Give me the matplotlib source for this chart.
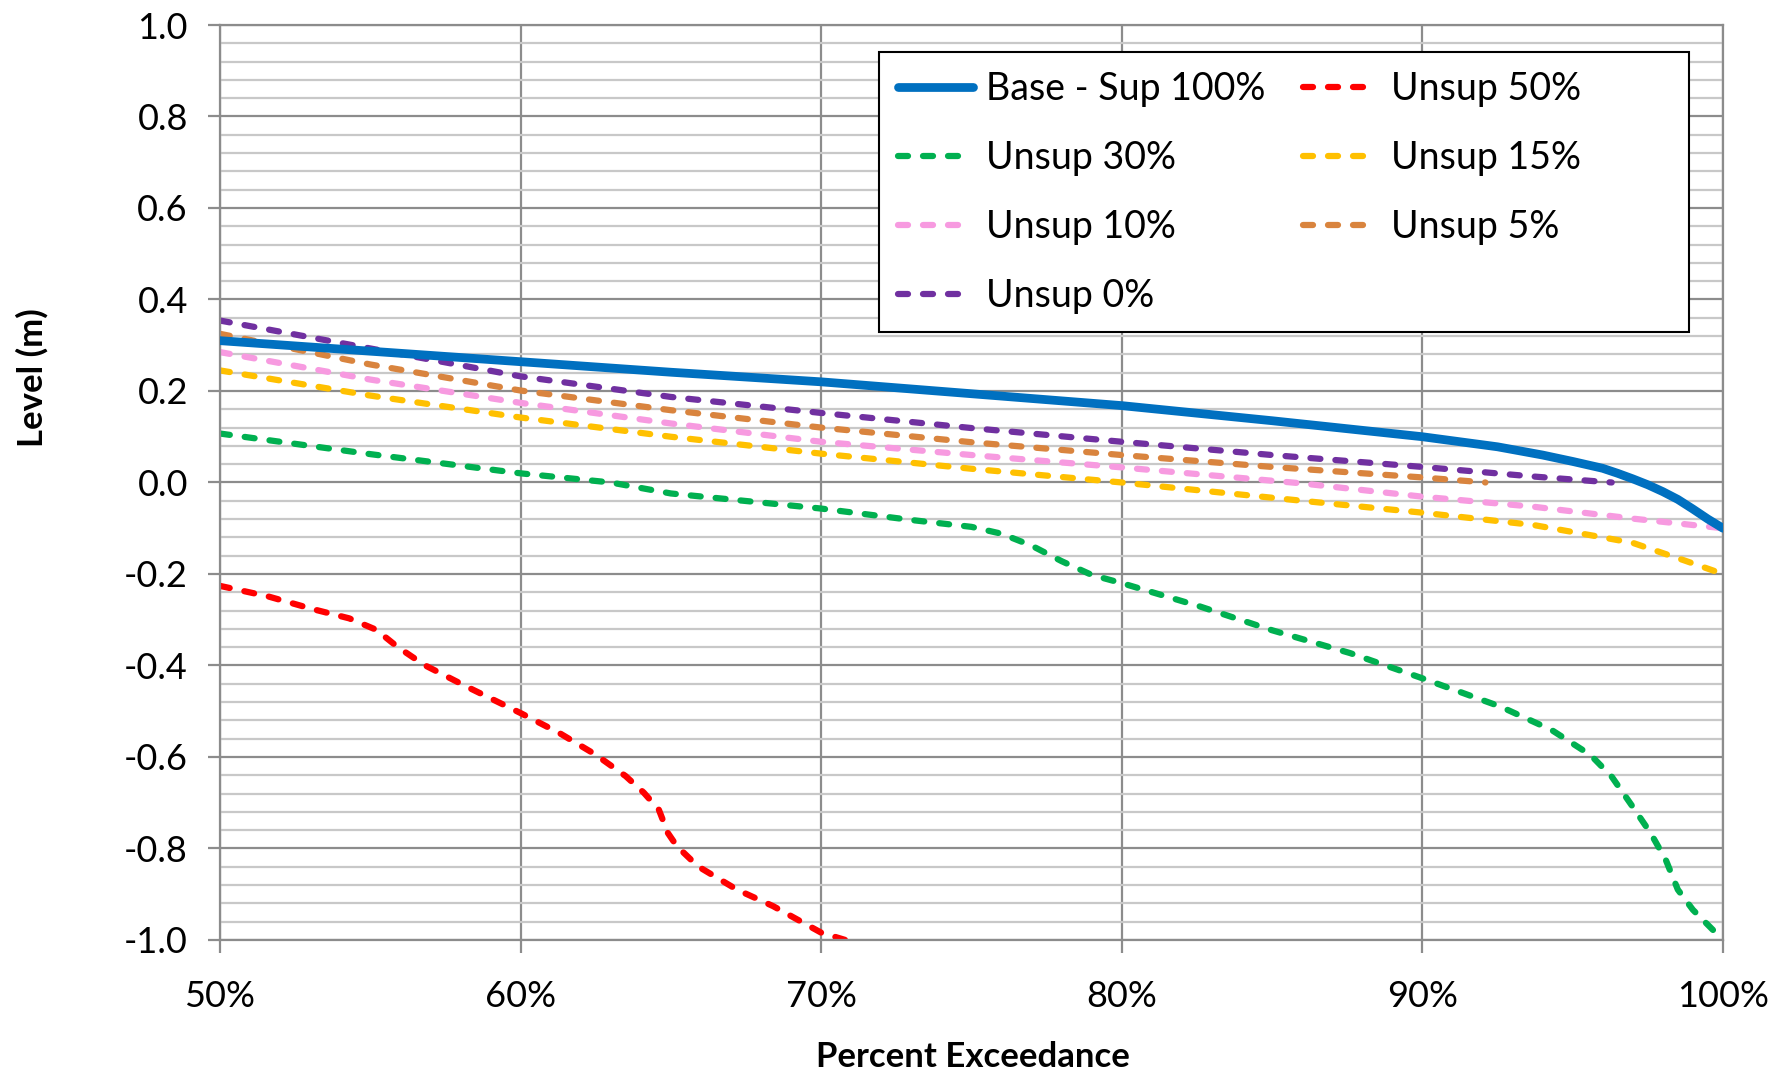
import matplotlib
matplotlib.use("Agg")
import matplotlib.pyplot as plt
from matplotlib.patches import Rectangle
from matplotlib.ticker import MultipleLocator, FuncFormatter

plt.rcParams['font.family'] = ['Lato', 'DejaVu Sans']
plt.rcParams['axes.unicode_minus'] = False

# exceedance (%) and level (m) per scenario
base_x = [50, 55, 60, 65, 70, 75, 80, 85, 90, 92.5, 94, 95, 96, 96.5, 97,
          97.5, 98, 98.5, 99, 99.5, 100]
base_y = [0.31, 0.287, 0.264, 0.241, 0.22, 0.194, 0.168, 0.135, 0.10, 0.078,
          0.06, 0.046, 0.031, 0.02, 0.008, -0.005, -0.02, -0.037, -0.058,
          -0.08, -0.10]

u50_x = [50, 51.6, 53.1, 54.3, 55.2, 55.9, 56.8, 58.2, 60, 61.3, 62.5, 63.5,
         64.1, 64.6, 64.9, 65.2, 65.9, 67.2, 68.4, 70, 70.8]
u50_y = [-0.226, -0.249, -0.277, -0.297, -0.322, -0.359, -0.399, -0.446, -0.504,
         -0.548, -0.595, -0.642, -0.678, -0.715, -0.766, -0.795, -0.839, -0.89,
         -0.926, -0.984, -1.0]

u30_x = [50, 55, 60, 63, 65, 70, 73, 75, 76, 77, 78, 79, 80, 82.6, 85, 87.6, 90,
         92.6, 94.3, 95.6, 96.3, 97, 97.6, 98.1, 98.5, 99, 100]
u30_y = [0.107, 0.062, 0.02, 0.0, -0.024, -0.057, -0.082, -0.097, -0.112, -0.138,
         -0.172, -0.202, -0.22, -0.271, -0.323, -0.373, -0.428, -0.49, -0.541,
         -0.596, -0.643, -0.709, -0.767, -0.825, -0.89, -0.934, -1.0]

u15_x = [50, 55, 60, 65, 70, 75, 80, 86, 90, 93.7, 96, 97, 98.7, 100]
u15_y = [0.245, 0.19, 0.142, 0.1, 0.063, 0.03, 0.0, -0.04, -0.066, -0.093,
         -0.12, -0.132, -0.17, -0.2]

u10_x = [50, 55, 60, 65, 70, 75, 80, 86, 90, 93.7, 97, 100]
u10_y = [0.285, 0.225, 0.174, 0.129, 0.089, 0.06, 0.033, -0.002, -0.031,
         -0.053, -0.079, -0.1]

u5_x = [50, 55, 60, 65, 70, 75, 80, 85, 90, 92.1]
u5_y = [0.325, 0.258, 0.201, 0.158, 0.12, 0.088, 0.06, 0.034, 0.011, 0.0]

u0_x = [50, 55, 60, 65, 70, 75, 80, 85, 90, 93.7, 96.3]
u0_y = [0.354, 0.293, 0.232, 0.187, 0.152, 0.119, 0.089, 0.06, 0.034, 0.013, 0.0]

fig = plt.figure(figsize=(17.88, 10.73), dpi=100)
ax = fig.add_axes([0.123, 0.124, 0.9636 - 0.123, 0.9767 - 0.124])

dash = dict(lw=4.5, dashes=(1.6, 2.4), dash_capstyle='round')
l_base, = ax.plot(base_x, base_y, color='#0070C0', lw=6.3, label='Base - Sup 100%',
                  solid_capstyle='round', zorder=5)
l50, = ax.plot(u50_x, u50_y, color='#FF0000', label='Unsup 50%', **dash)
l30, = ax.plot(u30_x, u30_y, color='#00B050', label='Unsup 30%', **dash)
l15, = ax.plot(u15_x, u15_y, color='#FFC000', label='Unsup 15%', **dash)
l10, = ax.plot(u10_x, u10_y, color='#F79AE0', label='Unsup 10%', **dash)
l5, = ax.plot(u5_x, u5_y, color='#D9843E', label='Unsup 5%', **dash)
l0, = ax.plot(u0_x, u0_y, color='#7030A0', label='Unsup 0%', **dash)

ax.set_xlim(50, 100)
ax.set_ylim(-1.0, 1.0)
ax.xaxis.set_major_locator(MultipleLocator(10))
ax.yaxis.set_major_locator(MultipleLocator(0.2))
ax.yaxis.set_minor_locator(MultipleLocator(0.04))
ax.xaxis.set_major_formatter(FuncFormatter(lambda v, p: f"{v:.0f}%"))
ax.yaxis.set_major_formatter(FuncFormatter(lambda v, p: f"{v:.1f}"))

ax.grid(which='major', color='#8C8C8C', lw=1.6)
ax.grid(which='minor', axis='y', color='#C8C8C8', lw=1.6)
ax.set_axisbelow(True)
for s in ax.spines.values():
    s.set_color('#8C8C8C')
    s.set_linewidth(1.6)

ax.tick_params(axis='both', which='major', labelsize=26, color='#8C8C8C',
               length=9, width=1.6, direction='out')
ax.tick_params(axis='y', which='minor', length=0)
ax.tick_params(axis='y', pad=14)
ax.tick_params(axis='x', pad=20)

ax.set_ylabel('Level (m)', fontsize=25, fontweight='bold')
ax.yaxis.set_label_coords(-0.114, 0.615)
ax.set_xlabel('Percent Exceedance', fontsize=25, fontweight='bold')
ax.xaxis.set_label_coords(0.501, -0.11)

# legend box drawn separately so it can be wider than its entries
box = Rectangle((0.4385, 0.6645), 0.9774 - 0.4385, 0.9705 - 0.6645,
                transform=ax.transAxes, facecolor='white', edgecolor='black',
                lw=1.5, zorder=4.5)
ax.add_patch(box)

handles = [l_base, l30, l10, l0, l50, l15, l5]
leg = ax.legend(handles=handles, labels=[h.get_label() for h in handles],
                ncol=2, loc='upper left', bbox_to_anchor=(0.4385, 0.9705),
                fontsize=27, frameon=False, handlelength=2.0,
                handletextpad=0.35, columnspacing=1.0, labelspacing=0.88,
                borderpad=0.5, borderaxespad=0)
leg.set_zorder(6)

fig.savefig('out.png', dpi=100)
